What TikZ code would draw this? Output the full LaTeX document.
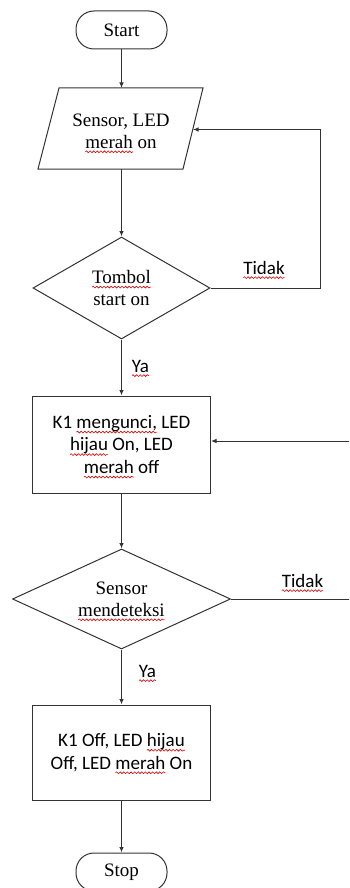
\documentclass[tikz,border=0pt]{standalone}
\usepackage{fontspec}
\setmainfont{Liberation Serif}
\newfontfamily\calibri{Carlito}
\usetikzlibrary{shapes.geometric,arrows.meta,decorations.pathmorphing}

% red wavy underline, as a spell checker marks a word
\newcommand\squig[1]{\tikz[baseline=(sqw.base)]{%
  \node[shape=rectangle, draw=none, fill=none, inner sep=0pt, outer sep=0pt,
        minimum width=0pt, minimum height=0pt, align=left, anchor=base] (sqw) {#1};
  \draw[overlay, draw=red!85!black, line width=0.6pt, sharp corners,
        decorate, decoration={snake, segment length=3.6pt, amplitude=0.9pt}]
    ([yshift=-3.6pt]sqw.base west) -- ([yshift=-3.6pt]sqw.base east);}}

\begin{document}
\begin{tikzpicture}[x=1pt,y=-1pt,
  line/.style={draw=black!80, line width=1pt},
  arrowline/.style={line, -{Latex[length=5.5pt,width=4.5pt]}},
  serif/.style={font=\fontsize{19}{22}\selectfont},
  sans/.style={font=\calibri\fontsize{19}{22.5}\selectfont},
  terminal/.style={line, rectangle, rounded corners=18pt, minimum width=91pt,
                   minimum height=38pt, inner sep=0pt, serif},
  decision/.style={line, diamond, inner sep=0pt, align=center, serif},
  procbox/.style={line, rectangle, minimum width=178pt, inner sep=0pt,
                  align=center, sans},
  lbl/.style={inner sep=0pt, sans, anchor=base}
]
\clip (0,0) rectangle (349,888);
\fill[white] (0,0) rectangle (349,888);

% start
\node[terminal] (start) at (121.5,30) {Start};

% input / output parallelogram
\coordinate (pTL) at (59,88);
\coordinate (pTR) at (203,88);
\coordinate (pBR) at (183,169);
\coordinate (pBL) at (38,169);
\coordinate (pTop) at (121.5,88);
\coordinate (pBot) at (121.5,169);
\coordinate (pRight) at (193,129.5);
\draw[line] (pTL) -- (pTR) -- (pBR) -- (pBL) -- cycle;
\node[serif, align=center, inner sep=0pt] (inp) at (121,131) {Sensor, LED\\\squig{merah} on};

% first decision
\node[decision, minimum width=177pt, minimum height=102pt, shape aspect=1.74]
  (d1) at (121.5,288) {\squig{Tombol}\\start on};
\node[lbl] (t1) at (264,274) {\squig{Tidak}};
\node[lbl] (y1) at (140.5,372) {\squig{Ya}};

% first process
\node[procbox, minimum height=97pt] (r1) at (121.5,444.5)
  {K1 \squig{mengunci,} LED\\\squig{hijau} On, LED\\\squig{merah} off};

% second decision
\node[decision, minimum width=218pt, minimum height=100pt, shape aspect=2.18]
  (d2) at (121.5,599) {Sensor\\\squig{mendeteksi}};
\node[lbl] (t2) at (302.5,587) {\squig{Tidak}};
\node[lbl] (y2) at (147.5,677) {\squig{Ya}};

% second process
\node[procbox, minimum height=95pt] (r2) at (121.5,752.5)
  {K1 Off, LED \squig{hijau}\\Off, LED \squig{merah} On};

% stop
\node[terminal] (stop) at (121.5,872) {Stop};

% connectors
\coordinate (loopA) at (320,129.5);
\coordinate (loopB) at (356,441);
\coordinate (r1in) at ([yshift=3.5pt]r1.east);

\draw[arrowline] (start) -- (pTop);
\draw[arrowline] (pBot) -- (d1.north);
\draw[arrowline] (d1.east) -| (loopA) -- (pRight);
\draw[arrowline] (d1.south) -- (r1.north);
\draw[arrowline] (r1.south) -- (d2.north);
\draw[arrowline] (d2.east) -| (loopB) -- (r1in);
\draw[arrowline] (d2.south) -- (r2.north);
\draw[arrowline] (r2.south) -- (stop.north);
\end{tikzpicture}
\end{document}
